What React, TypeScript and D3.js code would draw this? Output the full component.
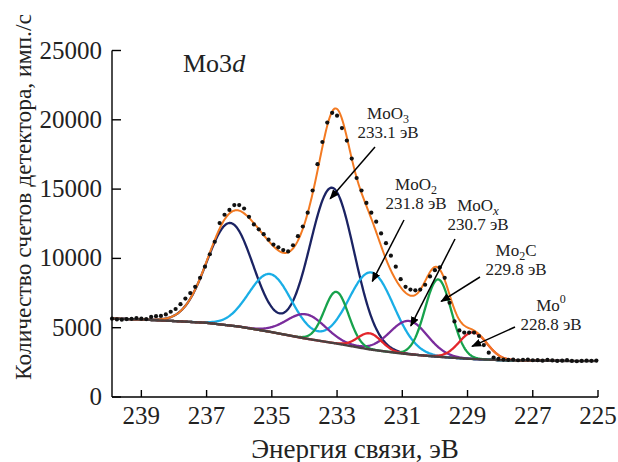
import React from "react";
import * as d3 from "d3";

const energyStart = 239.9;
const energyStep = 0.15;
const counts = [
  5650, 5600, 5580, 5620, 5640, 5700, 5650, 5620, 5780, 5830,
  5850, 5960, 6150, 6350, 6700, 7100, 7500, 7950, 8600, 9400,
  10300, 11200, 12550, 13150, 13500, 13850, 13850, 13600, 13000, 12450,
  12100, 11750, 11350, 11000, 10800, 10600, 10500, 10950, 11600, 12300,
  13300, 14900, 16800, 18400, 19800, 20500, 20300, 19400, 18500, 17200,
  15800, 14900, 14000, 13300, 12650, 11800, 11100, 10200, 9400, 8500,
  7950, 7750, 7700, 7750, 8100, 8700, 9150, 9350, 8600, 6800,
  5450, 4800, 4650, 4650, 4650, 4400, 3750, 3200, 2850, 2750,
  2700, 2680, 2700, 2650, 2680, 2700, 2650, 2660, 2620, 2680,
  2640, 2600, 2620, 2660, 2600, 2580, 2600, 2620, 2610, 2630,
];

// Shirley background
const bgEnergy = [239.9, 239, 238, 237, 236, 235, 234, 233, 232, 231, 230, 229, 228, 227, 226, 225];
const bgCounts = [5660, 5590, 5480, 5350, 5080, 4680, 4230, 3850, 3430, 3130, 2920, 2760, 2660, 2620, 2600, 2600];

// fitted doublets (3d5/2 and 3d3/2)
const peakNames = ["MoO3", "MoO2", "MoOx", "Mo2C", "Mo0"];
const peakLabels = ["233.1", "231.8", "230.7", "229.8", "228.8"];
const peakColors = ["#1b2363", "#1aaee6", "#7a2c9c", "#17a24c", "#e3262b"];
const centers52 = [233.15, 231.95, 230.8, 229.9, 228.83];
const centers32 = [236.27, 235.05, 233.95, 233.02, 232.0];
const heights52 = [11190, 5570, 2400, 5580, 1920];
const heights32 = [7400, 4170, 1750, 3730, 1160];
const fwhm52 = [1.6, 1.62, 1.35, 0.95, 1.0];
const fwhm32 = [1.68, 1.55, 1.4, 0.87, 0.85];

const xTicks = [239, 237, 235, 233, 231, 229, 227, 225];
const yTicks = [0, 5000, 10000, 15000, 20000, 25000];

const W = 618;
const H = 462;
const left = 112;
const right = 598;
const top = 50.5;
const bottom = 397;
const ts = { fontFamily: "Liberation Serif" };

// label placement (pixels) and arrow tip offset from the peak top
const labelPos = [
  { cx: 388, y: 119, sx: 375, sy: 147, dx: -2, dy: 11 },
  { cx: 416, y: 190, sx: 404, sy: 220, dx: 1, dy: 9 },
  { cx: 478, y: 211, sx: 455, sy: 239, dx: 2, dy: 5 },
  { cx: 516, y: 256, sx: 480, sy: 277, dx: 3, dy: 22 },
  { cx: 551, y: 311, sx: 515, sy: 327, dx: -1, dy: 14 },
];

const gauss = (e: number, c: number, h: number, w: number) =>
  h * Math.exp((-4 * Math.LN2 * (e - c) * (e - c)) / (w * w));

export default function App() {
  const x = d3.scaleLinear().domain([239.9, 225]).range([left, right]);
  const y = d3.scaleLinear().domain([0, 25000]).range([bottom, top]);
  const bg = d3.scaleLinear().domain(bgEnergy).range(bgCounts);

  const energies = counts.map((_, i) => energyStart - i * energyStep);
  const grid = d3.range(239.9, 224.99, -0.02);

  const comp = (k: number, e: number) =>
    gauss(e, centers52[k], heights52[k], fwhm52[k]) + gauss(e, centers32[k], heights32[k], fwhm32[k]);

  const line = d3
    .line<[number, number]>()
    .x((d) => x(d[0]))
    .y((d) => y(d[1]));

  const bgPath = line(grid.map((e) => [e, bg(e)]));
  const envPath = line(
    grid.map((e) => [e, bg(e) + peakNames.reduce((s, _, k) => s + comp(k, e), 0)])
  );
  const compPaths = peakNames.map((_, k) =>
    line(grid.filter((e) => e > 226).map((e) => [e, bg(e) + comp(k, e)]))
  );

  const sub = (name: string) => {
    if (name === "MoO3") return (<><tspan>MoO</tspan><tspan fontSize={12} dy={4}>3</tspan></>);
    if (name === "MoO2") return (<><tspan>MoO</tspan><tspan fontSize={12} dy={4}>2</tspan></>);
    if (name === "MoOx") return (<><tspan>MoO</tspan><tspan fontSize={13} dy={4} fontStyle="italic">x</tspan></>);
    if (name === "Mo2C") return (<><tspan>Mo</tspan><tspan fontSize={12} dy={4}>2</tspan><tspan dy={-4}>C</tspan></>);
    return (<><tspan>Mo</tspan><tspan fontSize={12} dy={-8}>0</tspan></>);
  };

  return (
    <svg width={W} height={H} style={{ position: "absolute", left: 0, top: 0, background: "#fff" }}>
      <defs>
        <marker id="arr" markerWidth={10} markerHeight={8} refX={9} refY={4} orient="auto" markerUnits="userSpaceOnUse">
          <path d="M0,0 L10,4 L0,8 z" fill="#000" />
        </marker>
      </defs>

      {compPaths.map((p, k) => (
        <path key={k} d={p ?? ""} fill="none" stroke={peakColors[k]} strokeWidth={2.3} />
      ))}
      <path d={envPath ?? ""} fill="none" stroke="#f37a22" strokeWidth={2} />
      <path d={bgPath ?? ""} fill="none" stroke="#4a4040" strokeWidth={2.4} />

      {counts.map((c, i) => (
        <circle key={i} cx={x(energies[i])} cy={y(c)} r={2.1} fill="#111" />
      ))}

      {/* axes */}
      <line x1={left} x2={left} y1={top} y2={bottom} stroke="#000" strokeWidth={1.4} />
      <line x1={left} x2={right} y1={bottom} y2={bottom} stroke="#000" strokeWidth={1.4} />
      {yTicks.map((t) => (
        <g key={t}>
          <line x1={left} x2={left + 9} y1={y(t)} y2={y(t)} stroke="#000" strokeWidth={1.4} />
          <text x={102} y={y(t) + 8} textAnchor="end" fontSize={25} fill="#222" style={ts}>
            {t}
          </text>
        </g>
      ))}
      {xTicks.map((t) => (
        <g key={t}>
          <line x1={x(t)} x2={x(t)} y1={bottom} y2={bottom - 7} stroke="#000" strokeWidth={1.4} />
          <text x={x(t)} y={424} textAnchor="middle" fontSize={25} fill="#222" style={ts}>
            {t}
          </text>
        </g>
      ))}
      <text x={355} y={458} textAnchor="middle" fontSize={27} fill="#222" style={ts}>
        Энергия связи, эВ
      </text>
      <text transform={`translate(31,197) rotate(-90)`} textAnchor="middle" fontSize={23.5} fill="#222" style={ts}>
        Количество счетов детектора, имп./с
      </text>

      <text x={183} y={72} fontSize={26} fill="#222" style={ts}>
        Mo3<tspan fontStyle="italic">d</tspan>
      </text>

      {peakNames.map((n, k) => {
        const lp = labelPos[k];
        const tx = x(centers52[k]) + lp.dx;
        const ty = y(bg(centers52[k]) + heights52[k]) + lp.dy;
        return (
          <g key={n}>
            <text x={lp.cx} y={lp.y} textAnchor="middle" fontSize={17} fill="#222" style={ts}>
              {sub(n)}
            </text>
            <text x={lp.cx} y={lp.y + 19} textAnchor="middle" fontSize={17} fill="#222" style={ts}>
              {peakLabels[k]} эВ
            </text>
            <line x1={lp.sx} y1={lp.sy} x2={tx} y2={ty} stroke="#000" strokeWidth={1.5} markerEnd="url(#arr)" />
          </g>
        );
      })}
    </svg>
  );
}
